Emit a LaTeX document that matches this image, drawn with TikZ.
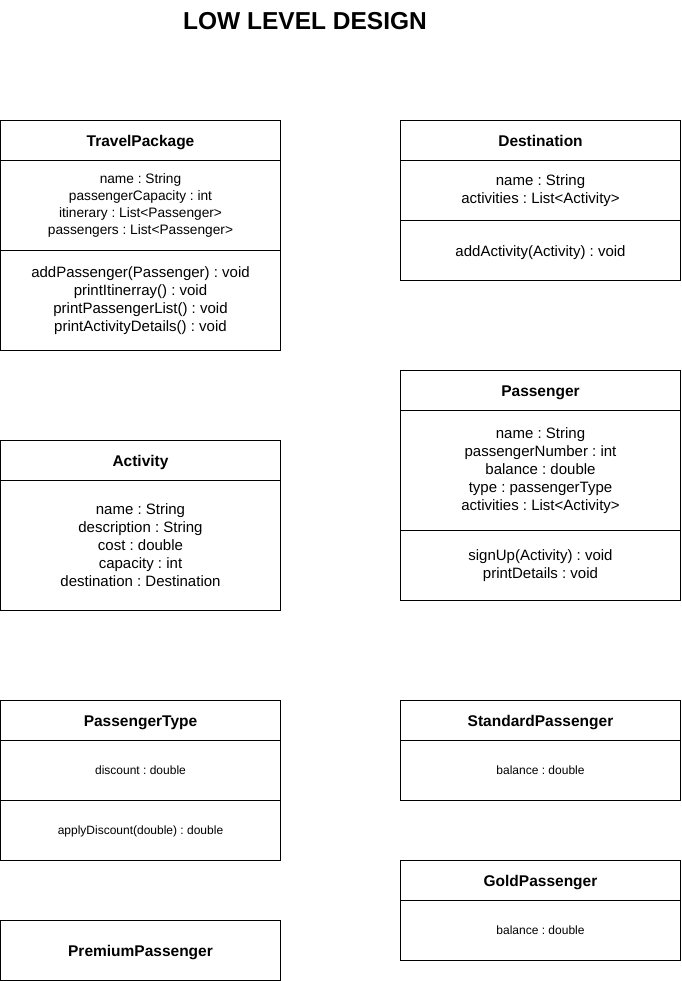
\documentclass[tikz,border=0pt]{standalone}
\usepackage{fontspec}
\setmainfont{Liberation Sans}
\frenchspacing
\begin{document}
\begin{tikzpicture}[x=1pt,y=-1pt,
  cell/.style={draw=black, line width=1pt, minimum width=280pt, inner sep=0pt, outer sep=0pt, anchor=north west},
  hdr/.style={cell, minimum height=40pt, font=\fontsize{15.5}{18}\selectfont\bfseries, text height=11.1pt, text depth=0pt},
  body/.style={cell, align=center, font=\fontsize{15}{18}\selectfont\frenchspacing, execute at begin node={\rule{0pt}{16pt}}},
  bodytp/.style={cell, align=center, font=\fontsize{13.7}{16.7}\selectfont\frenchspacing, execute at begin node={\rule{0pt}{13.5pt}}},
  bodysm/.style={cell, align=center, font=\fontsize{12}{14.4}\selectfont\frenchspacing, text height=8.6pt, text depth=0pt},
  titlestyle/.style={font=\fontsize{24.5}{29}\selectfont\bfseries, inner sep=0pt, anchor=base}
]
\useasboundingbox (0,0) rectangle (681,981);

\node[titlestyle] (title) at (305,29.5) {LOW LEVEL DESIGN};

% TravelPackage
\node[hdr] (tp-h) at (0.5,120.5) {TravelPackage};
\node[bodytp, minimum height=90pt] (tp-a) at (tp-h.south west) {name : String\\passengerCapacity : int\\itinerary : List<Passenger>\\passengers : List<Passenger>};
\node[body, minimum height=100pt] (tp-m) at (tp-a.south west) {addPassenger(Passenger) : void\\printItinerray() : void\\printPassengerList() : void\\printActivityDetails() : void};

% Destination
\node[hdr] (de-h) at (400.5,120.5) {Destination};
\node[body, minimum height=60pt] (de-a) at (de-h.south west) {name : String\\activities : List<Activity>};
\node[body, minimum height=60pt] (de-m) at (de-a.south west) {addActivity(Activity) : void};

% Passenger
\node[hdr] (pa-h) at (400.5,370.5) {Passenger};
\node[body, minimum height=120pt] (pa-a) at (pa-h.south west) {name : String\\passengerNumber : int\\balance : double\\type : passengerType\\activities : List<Activity>};
\node[body, minimum height=70pt] (pa-m) at (pa-a.south west) {signUp(Activity) : void\\printDetails : void};

% Activity
\node[hdr] (ac-h) at (0.5,440.5) {Activity};
\node[body, minimum height=130pt] (ac-a) at (ac-h.south west) {name : String\\description : String\\cost : double\\capacity : int\\destination : Destination};

% PassengerType
\node[hdr] (pt-h) at (0.5,700.5) {PassengerType};
\node[bodysm, minimum height=60pt] (pt-a) at (pt-h.south west) {discount : double};
\node[bodysm, minimum height=60pt] (pt-m) at (pt-a.south west) {applyDiscount(double) : double};

% StandardPassenger
\node[hdr] (sp-h) at (400.5,700.5) {StandardPassenger};
\node[bodysm, minimum height=60pt] (sp-a) at (sp-h.south west) {balance : double};

% GoldPassenger
\node[hdr] (gp-h) at (400.5,860.5) {GoldPassenger};
\node[bodysm, minimum height=60pt] (gp-a) at (gp-h.south west) {balance : double};

% PremiumPassenger
\node[hdr, minimum height=60pt] (pp-h) at (0.5,920.5) {PremiumPassenger};
\end{tikzpicture}
\end{document}
